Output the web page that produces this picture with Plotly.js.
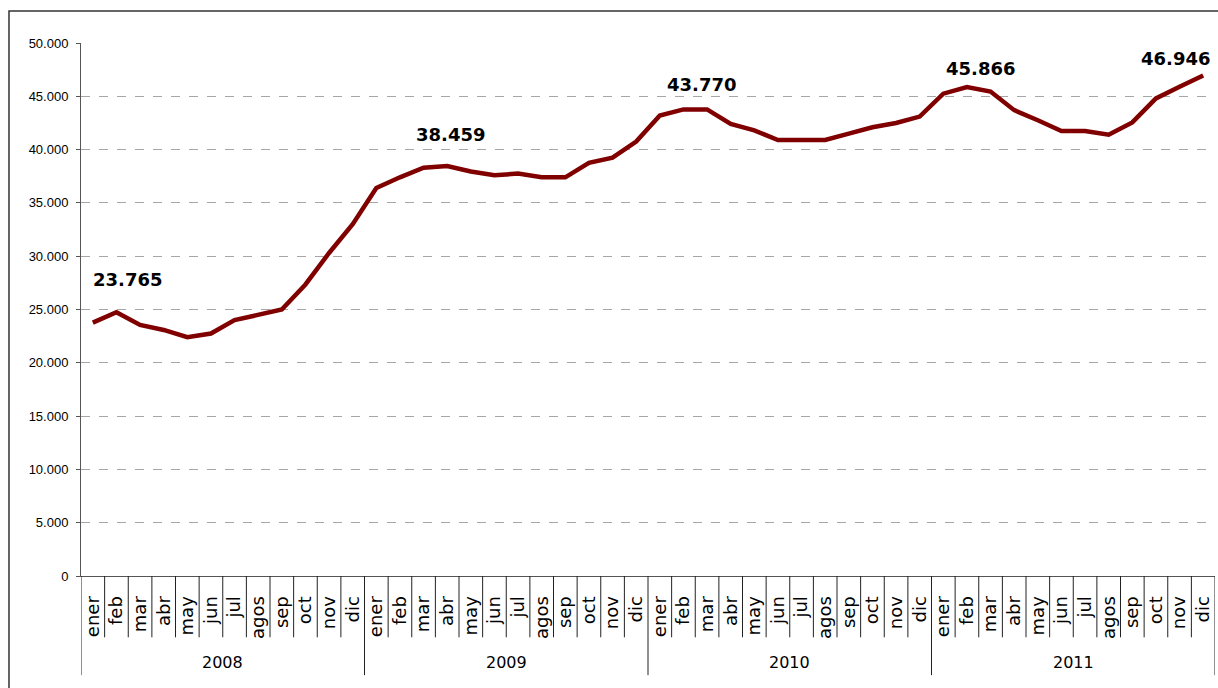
<!DOCTYPE html>
<html>
<head>
<meta charset="utf-8">
<script src="https://cdn.plot.ly/plotly-3.0.1.min.js"></script>
<style>html,body{margin:0;padding:0;background:#fff;}#chart{width:1218px;height:688px;}</style>
</head>
<body>
<div id="chart"></div>
<script>
var years = ["2008", "2009", "2010", "2011"];
var months = ["ener","feb","mar","abr","may","jun","jul","agos","sep","oct","nov","dic"];
var values2008 = [23765, 24750, 23550, 23080, 22400, 22750, 24000, 24480, 25000, 27350, 30300, 33000];
var values2009 = [36400, 37400, 38300, 38459, 37950, 37600, 37750, 37400, 37400, 38750, 39250, 40750];
var values2010 = [43200, 43770, 43770, 42400, 41800, 40900, 40900, 40900, 41500, 42100, 42500, 43100];
var values2011 = [45250, 45866, 45450, 43700, 42750, 41750, 41750, 41400, 42550, 44800, 45900, 46946];
var labelledPoints = [
  {year: "2008", month: "ener", text: "23.765"},
  {year: "2009", month: "abr", text: "38.459"},
  {year: "2010", month: "mar", text: "43.770"},
  {year: "2011", month: "feb", text: "45.866"},
  {year: "2011", month: "dic", text: "46.946"}
];

var allValues = [values2008, values2009, values2010, values2011];
var xs = [], ys = [], tickText = [];
years.forEach(function (yr, yi) {
  months.forEach(function (m, mi) {
    xs.push(yi * months.length + mi);
    ys.push(allValues[yi][mi]);
    tickText.push(m);
  });
});

var labelStyle = [
  {xanchor: "left", xshift: -2, yshift: 43},
  {xanchor: "center", xshift: 3, yshift: 32},
  {xanchor: "center", xshift: -6, yshift: 25},
  {xanchor: "center", xshift: 14, yshift: 19},
  {xanchor: "center", xshift: -28, yshift: 17}
];

var annotations = labelledPoints.map(function (p, k) {
  var idx = years.indexOf(p.year) * months.length + months.indexOf(p.month);
  var s = labelStyle[k];
  return {
    x: idx, y: ys[idx], xref: "x", yref: "y", text: "<b>" + p.text + "</b>",
    showarrow: false, xanchor: s.xanchor, yanchor: "middle",
    xshift: s.xshift, yshift: s.yshift,
    font: {family: "DejaVu Sans", size: 18, color: "#000"}
  };
});

years.forEach(function (yr, yi) {
  annotations.push({
    x: yi * months.length + (months.length - 1) / 2, y: -0.163,
    xref: "x", yref: "paper", text: yr, showarrow: false,
    xanchor: "center", yanchor: "middle",
    font: {family: "DejaVu Sans", size: 16, color: "#000"}
  });
});

var shapes = [];
var n = xs.length;
for (var b = 0; b <= n; b++) {
  var isYear = (b % months.length === 0);
  shapes.push({
    type: "line", xref: "x", yref: "paper",
    x0: b - 0.5, x1: b - 0.5, y0: 0, y1: isYear ? -0.186 : -0.115,
    line: {color: "#222", width: 1}
  });
}
// outer frame
shapes.push({
  type: "rect", xref: "paper", yref: "paper",
  x0: -0.0635, x1: 1.2, y0: -0.4, y1: 1.06,
  line: {color: "#333", width: 1.5}, fillcolor: "rgba(0,0,0,0)", layer: "below"
});

var trace = {
  x: xs, y: ys, type: "scatter", mode: "lines",
  line: {color: "#800000", width: 4.5},
  hoverinfo: "skip"
};

var layout = {
  width: 1218, height: 688,
  margin: {l: 81, r: 3, t: 43, b: 112},
  paper_bgcolor: "#fff", plot_bgcolor: "#fff",
  separators: ",.",
  showlegend: false,
  xaxis: {
    range: [-0.5, n - 0.5],
    tickmode: "array", tickvals: xs, ticktext: tickText,
    tickangle: -90, ticks: "outside", ticklen: 12, tickcolor: "rgba(0,0,0,0)",
    showgrid: false, zeroline: false,
    showline: true, linecolor: "#555", linewidth: 1,
    tickfont: {family: "DejaVu Sans", size: 18, color: "#000"},
    fixedrange: true
  },
  yaxis: {
    range: [0, 50000], tickmode: "linear", tick0: 0, dtick: 5000,
    tickformat: ",d", ticks: "outside", ticklen: 4, tickcolor: "#555",
    ticklabelstandoff: 5,
    showline: true, linecolor: "#555", linewidth: 1,
    showgrid: true, gridcolor: "#a6a6a6", griddash: "dash", gridwidth: 1,
    zeroline: false,
    tickfont: {family: "Liberation Sans, Arial", size: 13, color: "#000"},
    fixedrange: true
  },
  annotations: annotations,
  shapes: shapes
};

Plotly.newPlot("chart", [trace], layout, {displayModeBar: false, staticPlot: true});
</script>
</body>
</html>
